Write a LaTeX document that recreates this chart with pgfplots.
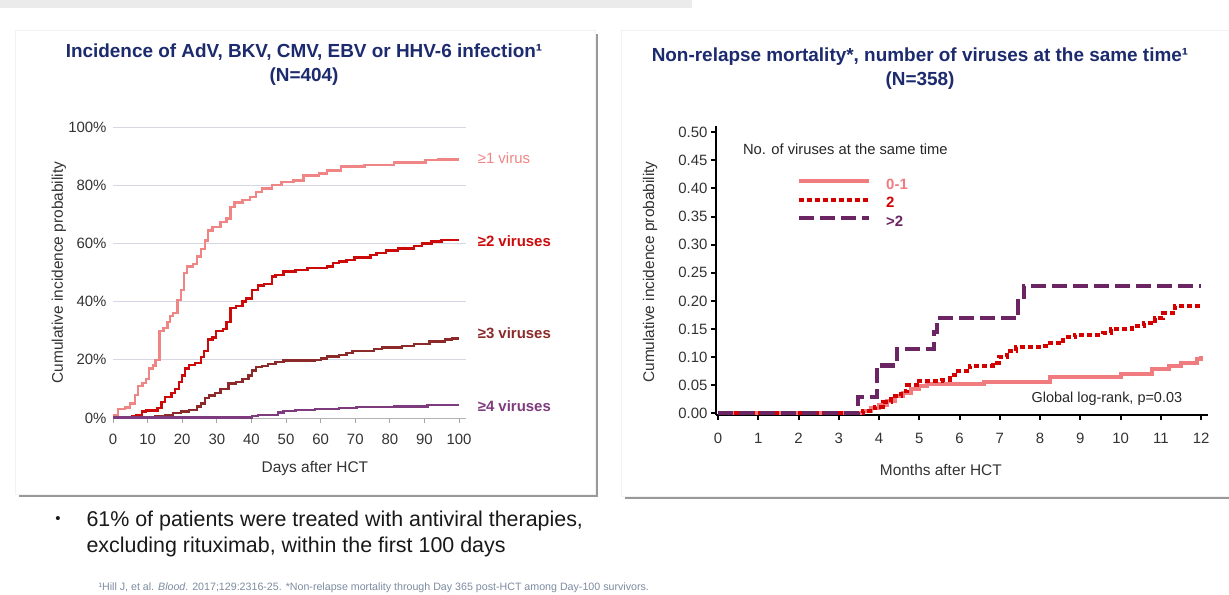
\documentclass[border=0pt]{standalone}
\usepackage{fontspec}
\setmainfont{Liberation Sans}
\usepackage{pgfplots}
\pgfplotsset{compat=1.18}
\definecolor{navy}{HTML}{1C2A6E}
\definecolor{vpink}{HTML}{F08585}
\definecolor{vred}{HTML}{CC0A0A}
\definecolor{vbrown}{HTML}{8C2A2A}
\definecolor{vpurple}{HTML}{7E3C7E}
\definecolor{rpink}{HTML}{F07C80}
\definecolor{rred}{HTML}{D40000}
\definecolor{rpurple}{HTML}{6C2563}
\definecolor{gridc}{HTML}{D5D7E5}
\definecolor{foot}{HTML}{7D8CA0}
\definecolor{txt}{HTML}{333333}

\pgfplotstableread{
x y
0 1.0
1.5 3.0
3.5 3.6
4.9 5.0
6.4 8.0
7.2 11.0
8.5 12.0
9.5 13.5
10.4 17.0
11.5 18.0
12.3 20.0
13.4 30.0
14.6 31.0
15.7 33.0
16.5 35.0
17.4 36.0
18.6 40.5
19.7 44.0
20.6 49.8
21.4 52.0
23.1 53.0
24.3 55.5
25.4 58.0
26.5 61.0
27.4 64.5
28.8 65.7
31.1 67.4
32.8 68.5
33.9 72.5
35.1 74.0
37.4 75.0
39.6 76.0
41.3 77.6
43.1 78.8
45.9 80.0
48.7 81.0
52.2 81.6
55.0 83.3
59.6 84.0
61.8 85.0
65.8 86.4
72.7 87.0
81.2 87.8
90.3 88.6
94.0 88.9
100 88.9
}\vone

\pgfplotstableread{
x y
0 0
5.5 0.5
6.6 1.0
8.3 2.3
9.5 2.6
12.9 3.4
14.0 5.4
15.1 7.3
16.9 8.5
18.0 10.0
19.1 12.4
19.9 14.6
20.8 17.0
22.0 18.3
23.7 19.0
25.4 21.0
26.3 23.0
27.4 27.0
28.8 27.6
29.7 30.0
31.7 30.6
32.8 33.0
33.9 37.7
35.6 38.5
37.4 40.0
38.5 41.0
40.2 44.0
41.9 45.6
43.6 46.0
45.9 48.6
47.0 49.2
49.3 50.3
52.7 50.9
56.2 51.5
61.8 52.0
63.6 53.2
65.3 53.8
67.5 54.3
69.8 55.2
74.4 56.0
76.1 56.6
78.9 57.5
82.3 58.3
86.9 59.1
89.2 60.0
92.0 60.7
94.9 61.1
100 61.1
}\vtwo

\pgfplotstableread{
x y
0 0
12.3 0.5
15.1 1.1
17.4 1.7
19.7 2.3
22.0 2.8
24.3 3.9
25.4 5.0
26.5 6.8
27.7 7.7
29.4 8.5
31.1 10.0
33.4 11.8
35.6 12.4
37.4 13.5
39.1 14.6
40.2 16.3
41.3 17.5
43.1 17.8
44.8 18.6
47.0 19.2
49.3 19.7
58.4 19.9
60.1 20.5
61.8 21.2
65.3 21.6
67.5 22.3
69.2 23.1
75.5 23.7
77.8 24.2
83.5 24.8
86.9 25.4
91.5 26.3
96.0 27.0
98.0 27.3
100 27.3
}\vthree

\pgfplotstableread{
x y
0 0.2
40.2 0.6
41.9 1.1
47.6 1.9
49.3 2.5
52.7 2.7
58.4 3.0
65.3 3.4
70.4 3.8
81.2 3.9
90.9 4.5
100 4.5
}\vfour

\pgfplotstableread{
x y
0 0
3.48 0.029
3.95 0.085
4.45 0.115
5.37 0.145
5.44 0.169
7.46 0.200
7.60 0.227
12 0.227
}\ngt

\pgfplotstableread{
x y
0 0
3.6 0.005
3.9 0.012
4.1 0.020
4.3 0.030
4.55 0.040
4.7 0.050
4.94 0.058
5.57 0.060
5.75 0.068
5.96 0.075
6.25 0.085
6.83 0.090
6.97 0.100
7.17 0.110
7.41 0.118
8.05 0.120
8.24 0.125
8.58 0.135
8.87 0.140
9.55 0.143
9.75 0.150
10.28 0.155
10.57 0.160
10.86 0.170
11.06 0.178
11.35 0.190
12 0.190
}\ntwo

\pgfplotstableread{
x y
0 0
3.6 0.004
3.8 0.010
4.0 0.015
4.2 0.022
4.4 0.030
4.6 0.037
4.8 0.044
5.0 0.048
5.2 0.052
6.6 0.055
8.25 0.065
10.0 0.070
10.77 0.078
11.2 0.085
11.5 0.090
11.9 0.097
12 0.102
}\none

\begin{document}
\begin{tikzpicture}[x=1bp,y=-1bp]
\path[use as bounding box, fill=white] (0,0) rectangle (1229,595);
\fill[black!8] (0,0) rectangle (692,8);
% panels
\fill[black!40] (19,34) rectangle (598,497);
\fill[white, draw=black!5] (15,30) rectangle (595,494);
\fill[black!40] (625,34) rectangle (1235,499);
\fill[white, draw=black!5] (621,30) rectangle (1240,496);

% titles
\node[font=\bfseries\fontsize{19}{24}\selectfont, text=navy, align=center] at (304,65)
  {Incidence of AdV, BKV, CMV, EBV or HHV-6 infection¹\\(N=404)};
\node[font=\bfseries\fontsize{19}{24}\selectfont, text=navy, align=center] at (920,69)
  {Non-relapse mortality*, number of viruses at the same time¹\\(N=358)};

% left chart
\begin{axis}[at={(113bp,-418bp)}, anchor=south west, scale only axis,
  width=353bp, height=291bp,
  xmin=0, xmax=102, ymin=0, ymax=100, clip=false,
  axis x line*=bottom, axis y line*=left,
  y axis line style={draw=none},
  x axis line style={draw=black!30, line width=1bp, -},
  xtick={0,10,...,100}, ytick={0,20,...,100},
  yticklabel={\pgfmathprintnumber{\tick}\%},
  ymajorgrids, grid style={gridc, line width=1bp},
  tick align=outside, major tick length=5bp,
  xtick style={black!35, line width=0.8bp}, ytick style={draw=none},
  tick label style={font=\fontsize{15}{15}\selectfont, text=txt},
  xticklabel style={yshift=-8bp},
  yticklabel style={xshift=2bp},
  /pgf/number format/assume math mode=true,
  xlabel={Days after HCT}, ylabel={Cumulative incidence probability},
  label style={font=\fontsize{15.5}{16}\selectfont, text=txt},
  xlabel style={at={(axis description cs:0.572,-0.172)}, anchor=center},
  ylabel style={at={(axis description cs:-0.153,0.5)}, anchor=center},
  const plot]
\addplot[vpink, line width=2.4bp] table {\vone};
\addplot[vred, line width=2.4bp] table {\vtwo};
\addplot[vbrown, line width=2.4bp] table {\vthree};
\addplot[vpurple, line width=2.4bp] table {\vfour};
\node[anchor=west, text=vpink, font=\fontsize{15}{15}\selectfont] at (axis cs:104.4,89.3) {≥1 virus};
\node[anchor=west, text=vred, font=\bfseries\fontsize{15}{15}\selectfont] at (axis cs:104.4,60.8) {≥2 viruses};
\node[anchor=west, text=vbrown, font=\bfseries\fontsize{15}{15}\selectfont] at (axis cs:104.4,29.2) {≥3 viruses};
\node[anchor=west, text=vpurple, font=\bfseries\fontsize{15}{15}\selectfont] at (axis cs:104.4,4.1) {≥4 viruses};
\end{axis}

% right chart
\begin{axis}[at={(716bp,-415bp)}, anchor=south west, scale only axis,
  width=492bp, height=289bp,
  xmin=-0.05, xmax=12.17, ymin=-0.003, ymax=0.511, clip=false,
  axis x line*=bottom, axis y line*=left,
  axis line style={line width=2.2bp, black, -},
  xtick={0,1,...,12},
  ytick={0,0.05,0.1,0.15,0.2,0.25,0.3,0.35,0.4,0.45,0.5},
  yticklabel style={/pgf/number format/.cd, fixed, fixed zerofill, precision=2},
  tick align=outside, major tick length=5bp,
  tick style={black, line width=2bp},
  tick label style={font=\fontsize{15}{15}\selectfont, text=txt},
  xticklabel style={yshift=-10bp},
  /pgf/number format/assume math mode=true,
  xlabel={Months after HCT}, ylabel={Cumulative incidence probability},
  label style={font=\fontsize{15.5}{16}\selectfont, text=txt},
  xlabel style={at={(axis description cs:0.457,-0.19)}, anchor=center},
  ylabel style={at={(axis description cs:-0.134,0.495)}, anchor=center},
  legend style={at={(axis cs:1.962,0.4185)}, anchor=north west, draw=none, fill=none,
    inner sep=0pt, outer sep=0pt, font=\bfseries\fontsize{15}{15}\selectfont,
    nodes={inner sep=0pt, text height=11bp, text depth=3bp},
    row sep=4.5bp, /tikz/every odd column/.append style={column sep=15bp}},
  legend image code/.code={\draw[#1] (0bp,4bp) -- (70bp,4bp);},
  legend cell align=left,
  const plot]
\addplot[rpink, line width=4bp] table {\none};
\addlegendentry{\textcolor{rpink}{0-1}}
\addplot[rred, line width=4bp, dash pattern=on 5bp off 3bp] table {\ntwo};
\addlegendentry{\textcolor{rred}{2}}
\addplot[rpurple, line width=4.2bp, dash pattern=on 15bp off 6bp] table {\ngt};
\addlegendentry{\textcolor{rpurple}{>2}}
\node[anchor=west, text=black!85, font=\fontsize{14.8}{15}\selectfont] at (axis cs:0.534,0.470) {No. of viruses at the same time};
\node[anchor=west, text=black!85, font=\fontsize{14.5}{15}\selectfont] at (axis cs:7.70,0.0255) {Global log-rank, p=0.03};
\end{axis}

% bullet text
\node[font=\fontsize{15}{15}\selectfont, text=black!90] at (58,520) {•};
\node[anchor=west, font=\fontsize{21.5}{26}\selectfont, align=left, text=black!90] at (83,534)
  {61\% of patients were treated with antiviral therapies,\\excluding rituximab, within the first 100 days};
\node[anchor=west, font=\fontsize{10.7}{11}\selectfont, text=foot] at (95,588)
  {¹Hill J, et al. \textit{Blood}. 2017;129:2316-25. *Non-relapse mortality through Day 365 post-HCT among Day-100 survivors.};
\end{tikzpicture}
\end{document}
